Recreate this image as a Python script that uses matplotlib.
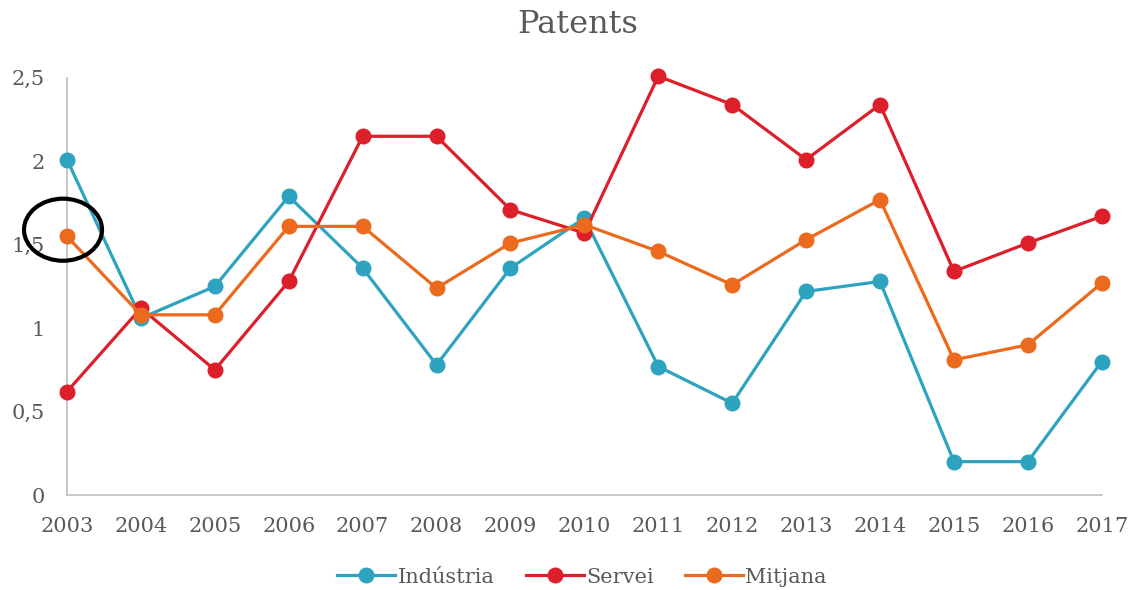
import matplotlib
matplotlib.use("Agg")
import matplotlib.pyplot as plt
from matplotlib.patches import Ellipse

years = ["2003", "2004", "2005", "2006", "2007", "2008", "2009", "2010",
         "2011", "2012", "2013", "2014", "2015", "2016", "2017"]
industria = [2.01, 1.06, 1.25, 1.79, 1.36, 0.78, 1.36, 1.66, 0.77, 0.55, 1.22, 1.28, 0.20, 0.20, 0.80]
servei = [0.62, 1.12, 0.75, 1.28, 2.15, 2.15, 1.71, 1.57, 2.51, 2.34, 2.01, 2.34, 1.34, 1.51, 1.67]
mitjana = [1.55, 1.08, 1.08, 1.61, 1.61, 1.24, 1.51, 1.62, 1.46, 1.26, 1.53, 1.77, 0.81, 0.90, 1.27]
yticks = [0, 0.5, 1, 1.5, 2, 2.5]
ytick_labels = ["0", "0,5", "1", "1,5", "2", "2,5"]

plt.rcParams['font.family'] = ['DejaVu Serif']
txt = "#595959"

fig = plt.figure(figsize=(11.3, 5.9), dpi=100)
ax = fig.add_axes([0.0593, 0.161, 0.9157, 0.707])

x = list(range(len(years)))
series = [("Indústria", industria, "#2EA3BF"),
          ("Servei", servei, "#DC1F2A"),
          ("Mitjana", mitjana, "#EB6A1E")]
for name, vals, col in series:
    ax.plot(x, vals, color=col, lw=2.3, marker="o", markersize=10.5,
            label=name, clip_on=False, zorder=3)

ax.set_xlim(0, len(years) - 1)
ax.set_ylim(0, 2.5)
ax.set_xticks(x)
ax.set_xticklabels(years)
ax.set_yticks(yticks)
ax.set_yticklabels(ytick_labels)
ax.tick_params(axis="both", length=0, labelsize=15, colors=txt)
ax.tick_params(axis="x", pad=16)
ax.tick_params(axis="y", pad=16)
for s in ["top", "right"]:
    ax.spines[s].set_visible(False)
for s in ["left", "bottom"]:
    ax.spines[s].set_color("#BFBFBF")
    ax.spines[s].set_linewidth(1.2)

ell = Ellipse((-0.054, 1.59), 1.055, 0.372, fill=False, edgecolor="black",
              lw=3, clip_on=False, zorder=5)
ax.add_patch(ell)

fig.text(0.511, 0.958, "Patents", ha="center", va="center", fontsize=23, color=txt)

fig.legend(loc="center", bbox_to_anchor=(0.515, 0.022), ncol=3, frameon=False,
           fontsize=15, labelcolor=txt, handlelength=2.8, handletextpad=0.1,
           columnspacing=1.5)

fig.savefig("out.png", dpi=100)
